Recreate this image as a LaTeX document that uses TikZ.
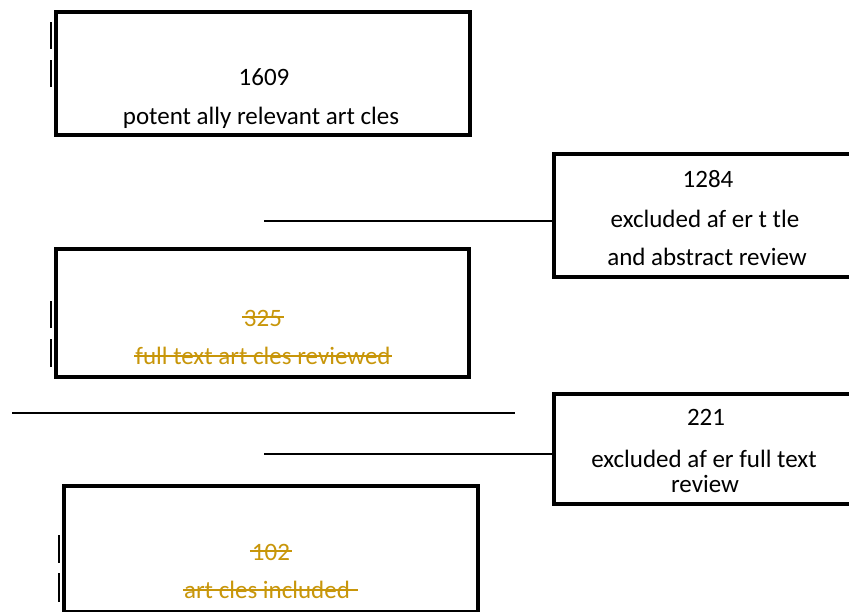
\documentclass[tikz,border=0pt]{standalone}
\usepackage{fontspec}
\setmainfont{Carlito}
\definecolor{gold}{RGB}{200,150,10}
\begin{document}
\begin{tikzpicture}[x=1pt,y=-1pt,
  box/.style={draw=black,line width=4pt,inner sep=0pt,fill=white},
  txt/.style={inner sep=0pt,anchor=base,font=\fontsize{25}{30}\selectfont},
  gtxt/.style={txt,text=gold},
  strike/.style={draw=gold,line width=1.6pt},
  conn/.style={draw=black,line width=1.4pt},
  tick/.style={draw=black,line width=1.4pt}]
\useasboundingbox (0,0) rectangle (849,611);
% boxes
\node[box,minimum width=414pt,minimum height=123pt] (b1) at (263,73.5) {};
\node[box,minimum width=304pt,minimum height=123pt] (b2) at (706,215.5) {};
\node[box,minimum width=413pt,minimum height=128pt] (b3) at (262.5,313) {};
\node[box,minimum width=304pt,minimum height=110pt] (b4) at (706,449) {};
\node[box,minimum width=414pt,minimum height=126pt] (b5) at (271,549) {};
% texts
\node[txt] (t1a) at (264,85) {1609};
\node[txt] (t1b) at (261,124) {potent ally relevant art cles};
\node[txt] (t2a) at (708,187) {1284};
\node[txt] (t2b) at (705,227) {excluded af er t tle};
\node[txt] (t2c) at (707,265) {and abstract review};
\node[gtxt] (t3a) at (263,326) {325};
\node[gtxt] (t3b) at (263,364) {full text art cles reviewed};
\node[txt] (t4a) at (706,425) {221};
\node[txt] (t4b) at (704,467) {excluded af er full text};
\node[txt] (t4c) at (705,492) {review};
\node[gtxt] (t5a) at (271,560) {102};
\node[gtxt] (t5b) at (267,598) {art cles included};
% strike-through lines
\draw[strike] ([shift={(-2,-9)}]t3a.base west) -- ([shift={(2,-9)}]t3a.base east);
\draw[strike] ([shift={(-1,-8)}]t3b.base west) -- ([shift={(1,-8)}]t3b.base east);
\draw[strike] ([shift={(-2,-9)}]t5a.base west) -- ([shift={(2,-9)}]t5a.base east);
\draw[strike] ([shift={(-1,-8)}]t5b.base west) -- ([shift={(8,-8)}]t5b.base east);
% connectors
\coordinate (c1) at (264,221);
\coordinate (c2) at (264,454);
\coordinate (l1) at (12,413);
\coordinate (l2) at (515,413);
\draw[conn] (c1) -- (c1 -| b2.west);
\draw[conn] (c2) -- (c2 -| b4.west);
\draw[conn] (l1) -- (l2);
% small vertical ticks
\coordinate (k1) at (51,22); \coordinate (k2) at (51,49);
\coordinate (k3) at (51,60); \coordinate (k4) at (51,87);
\coordinate (k5) at (51,301); \coordinate (k6) at (51,328);
\coordinate (k7) at (51,339); \coordinate (k8) at (51,367);
\coordinate (k9) at (59,535); \coordinate (k10) at (59,563);
\coordinate (k11) at (59,573); \coordinate (k12) at (59,602);
\draw[tick] (k1) -- (k2);
\draw[tick] (k3) -- (k4);
\draw[tick] (k5) -- (k6);
\draw[tick] (k7) -- (k8);
\draw[tick] (k9) -- (k10);
\draw[tick] (k11) -- (k12);
\end{tikzpicture}
\end{document}
